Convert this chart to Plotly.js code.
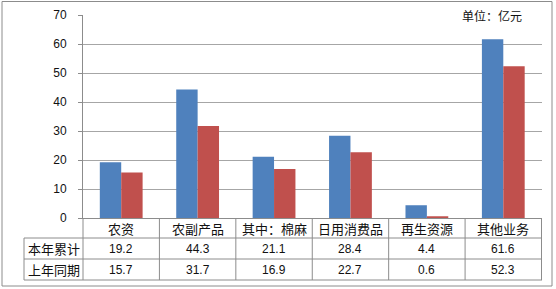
<!DOCTYPE html>
<html><head><meta charset="utf-8">
<script src="https://cdn.plot.ly/plotly-3.0.1.min.js"></script>
<style>html,body{margin:0;padding:0;background:#fff}#c{width:556px;height:289px}</style>
</head><body><div id="c"></div>
<script>
const categories = ["农资", "农副产品", "其中：棉麻", "日用消费品", "再生资源", "其他业务"];
const seriesNames = ["本年累计", "上年同期"];
const thisYear = [19.2, 44.3, 21.1, 28.4, 4.4, 61.6];
const lastYear = [15.7, 31.7, 16.9, 22.7, 0.6, 52.3];
const yTicks = [0, 10, 20, 30, 40, 50, 60, 70];
const unitLabel = "单位：亿元";

const W = 556, H = 289, L = 83, R = 14, T = 15, B = 71;
const pw = W - L - R, ph = H - T - B;
const px = x => (x - L) / pw;
const py = y => (H - B - y) / ph;

const colors = ["#4F81BD", "#C0504D"];
const cjk = "'Noto Sans CJK SC', 'Liberation Sans', sans-serif";
const num = "'Liberation Sans', Arial, sans-serif";
const lineCol = "#8c8c8c";

const traces = [thisYear, lastYear].map((v, i) => ({
  type: "bar", x: categories, y: v, name: seriesNames[i],
  marker: {color: colors[i], line: {width: 0}}, hoverinfo: "none"
}));

const shapes = [];
const ann = [];
// outer border
shapes.push({type: "rect", xref: "paper", yref: "paper", x0: px(2), x1: px(552), y0: py(286), y1: py(1.5),
  line: {color: "#8c8c8c", width: 1}, layer: "below"});
// table horizontal lines
[238, 259, 280].forEach(y => shapes.push({type: "line", xref: "paper", yref: "paper",
  x0: px(24), x1: 1, y0: py(y), y1: py(y), line: {color: lineCol, width: 1}}));
// left-most vertical line
shapes.push({type: "line", xref: "paper", yref: "paper", x0: px(24), x1: px(24), y0: py(238), y1: py(280), line: {color: lineCol, width: 1}});
shapes.push({type: "line", xref: "paper", yref: "paper", x0: 0, x1: 0, y0: py(218), y1: py(280), line: {color: lineCol, width: 1}});
// column boundaries
for (let i = 0; i < categories.length; i++) {
  shapes.push({type: "line", xref: "x", yref: "paper", x0: i + 0.5, x1: i + 0.5, y0: py(218), y1: py(280), line: {color: lineCol, width: 1}});
}
// category labels and values
categories.forEach((c, i) => {
  ann.push({xref: "x", yref: "paper", x: i, y: py(228), text: c, showarrow: false,
    font: {family: cjk, size: 13, color: "#111"}, xanchor: "center", yanchor: "middle"});
  ann.push({xref: "x", yref: "paper", x: i, y: py(248.5), text: thisYear[i].toFixed(1), showarrow: false,
    font: {family: num, size: 12, color: "#111"}, xanchor: "center", yanchor: "middle"});
  ann.push({xref: "x", yref: "paper", x: i, y: py(269.5), text: lastYear[i].toFixed(1), showarrow: false,
    font: {family: num, size: 12, color: "#111"}, xanchor: "center", yanchor: "middle"});
});
seriesNames.forEach((s, i) => {
  ann.push({xref: "paper", yref: "paper", x: px(53.5), y: py(i === 0 ? 248.5 : 269.5), text: s, showarrow: false,
    font: {family: cjk, size: 13, color: "#111"}, xanchor: "center", yanchor: "middle"});
});
ann.push({xref: "paper", yref: "paper", x: px(492), y: py(15), text: unitLabel, showarrow: false,
  font: {family: cjk, size: 12, color: "#111"}, xanchor: "center", yanchor: "middle"});

const layout = {
  width: W, height: H, margin: {l: L, r: R, t: T, b: B, pad: 0},
  paper_bgcolor: "#fff", plot_bgcolor: "#fff",
  barmode: "group", bargap: 0.44, bargroupgap: 0, showlegend: false,
  xaxis: {type: "category", showticklabels: false, ticks: "", showgrid: false,
    showline: true, linecolor: lineCol, linewidth: 1, zeroline: false, fixedrange: true},
  yaxis: {range: [0, 70], tickvals: yTicks, ticktext: yTicks.map(String), ticks: "outside", ticklen: 4,
    tickcolor: lineCol, showline: true, linecolor: lineCol, linewidth: 1,
    showgrid: true, gridcolor: "#a6a6a6", gridwidth: 1, zeroline: false,
    ticklabelstandoff: 9, tickfont: {family: num, size: 12, color: "#111"}, fixedrange: true},
  shapes: shapes, annotations: ann
};
Plotly.newPlot("c", traces, layout, {staticPlot: true, displayModeBar: false});
</script></body></html>
